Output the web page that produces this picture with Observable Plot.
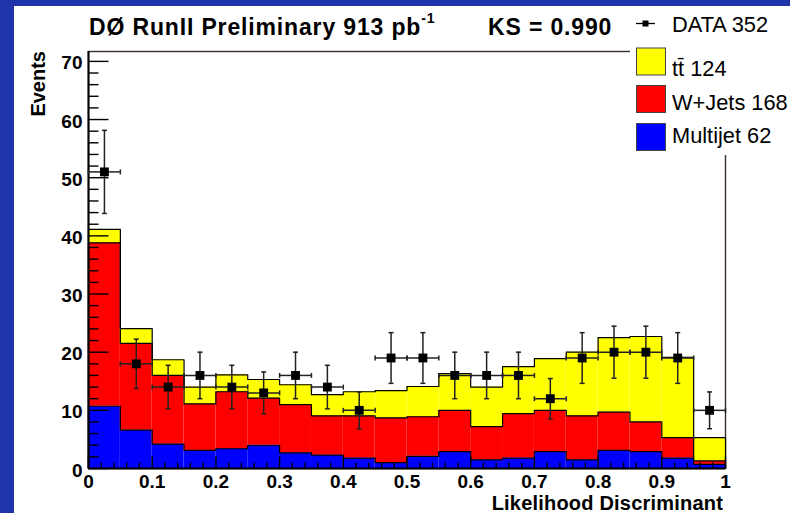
<!DOCTYPE html>
<html>
<head>
<meta charset="utf-8">
<script src="https://cdn.jsdelivr.net/npm/d3@7"></script>
<script src="https://cdn.jsdelivr.net/npm/@observablehq/plot@0.6"></script>
<style>
  html, body { margin: 0; padding: 0; background: #1f34aa; }
  #wrap { position: relative; width: 790px; height: 513px; overflow: hidden; }
  #panel { position: absolute; left: 14px; top: 6px; width: 776px; height: 507px; background: #fff; }
  #chart, #overlay { position: absolute; left: 0; top: 0; }
  #overlay text { font-family: "Liberation Sans", Arial, Helvetica, sans-serif; fill: #000; }
  .bold { font-weight: bold; }
</style>
</head>
<body>
<div id="wrap">
  <div id="panel"></div>
  <div id="chart"></div>
  <svg id="overlay" width="790" height="513">
    <!-- title line -->
    <text class="bold" x="89" y="35" font-size="23" letter-spacing="0.85">DØ RunII Preliminary 913 pb<tspan font-size="14" dy="-12">-1</tspan></text>
    <text class="bold" x="488" y="35" font-size="23" letter-spacing="0.85">KS = 0.990</text>
    <!-- legend -->
    <rect x="630" y="6" width="160" height="149" fill="#fff"/>
    <line x1="636" x2="655" y1="23.5" y2="23.5" stroke="#000" stroke-width="1.3"/>
    <rect x="642.5" y="20.5" width="6" height="6" fill="#000"/>
    <text x="672" y="31.7" font-size="21.8">DATA 352</text>
    <rect x="636.5" y="48" width="29" height="27" fill="#ffff00" stroke="#444" stroke-width="1"/>
    <text x="672" y="76" font-size="21.8">tt&#x0304; 124</text>
    <rect x="636.5" y="85.5" width="29" height="27" fill="#ff0000" stroke="#444" stroke-width="1"/>
    <text x="672" y="110" font-size="21.8">W+Jets 168</text>
    <rect x="636.5" y="123.5" width="29" height="27" fill="#0000ff" stroke="#444" stroke-width="1"/>
    <text x="672" y="142.7" font-size="21.8">Multijet 62</text>
    <!-- axis titles -->
    <text class="bold" font-size="20" text-anchor="end" transform="translate(45,51) rotate(-90)">Events</text>
    <text class="bold" x="723" y="510" font-size="20" text-anchor="end" letter-spacing="0.2">Likelihood Discriminant</text>
  </svg>
</div>
<script>
// Bin lower edges of the likelihood discriminant histogram (bin width 0.05)
const binLow = [0, 0.05, 0.1, 0.15, 0.2, 0.25, 0.3, 0.35, 0.4, 0.45,
                0.5, 0.55, 0.6, 0.65, 0.7, 0.75, 0.8, 0.85, 0.9, 0.95];
const binWidth = 0.05;

// Expected events per bin for each background/signal component
const multijet = [10.7, 6.6, 4.2, 3.1, 3.4, 4.0, 2.7, 2.3, 1.8, 1.0,
                  2.1, 2.9, 1.5, 1.8, 2.9, 1.5, 3.1, 2.9, 1.8, 0.7];
const wjets    = [28.1, 14.9, 11.8, 8.0, 9.8, 8.1, 8.3, 6.75, 7.25, 7.7,
                  6.8, 7.1, 5.7, 7.65, 7.1, 7.55, 6.6, 5.1, 3.5, 0.6];
const ttbar    = [2.3, 2.55, 2.7, 2.9, 2.9, 3.2, 3.4, 3.65, 4.15, 4.7,
                  5.2, 6.3, 6.8, 8.05, 8.9, 10.95, 12.8, 14.7, 13.8, 4.0];

// Observed data counts per bin
const dataCounts = [51, 18, 14, 16, 14, 13, 16, 14, 10, 19,
                    19, 16, 16, 16, 12, 19, 20, 20, 19, 10];

// Stack order (bottom to top) and fill colours
const componentNames  = ["Multijet", "W+Jets", "ttbar"];
const componentColors = ["#0000ff", "#ff0000", "#ffff00"];

// Axis ticks
const xTickValues = [0, 0.1, 0.2, 0.3, 0.4, 0.5, 0.6, 0.7, 0.8, 0.9, 1];
const xTickLabels = ["0", "0.1", "0.2", "0.3", "0.4", "0.5", "0.6", "0.7", "0.8", "0.9", "1"];
const xMinorTicks = d3.range(0, 1.001, 0.02).filter(v => Math.abs(v * 10 - Math.round(v * 10)) > 1e-6);
const yTickValues = [0, 10, 20, 30, 40, 50, 60, 70];
const yMinorTicks = d3.range(2, 71, 2).filter(v => v % 10 !== 0);

// Build stacked rectangles and the step outline of each stack layer
const layers = [multijet, wjets, ttbar];
const rects = [];
const outlines = [];
const tops = layers.map(() => []);
binLow.forEach((x0, i) => {
  let base = 0;
  layers.forEach((vals, k) => {
    const top = base + vals[i];
    rects.push({x1: x0, x2: x0 + binWidth, y1: base, y2: top, name: componentNames[k]});
    tops[k].push(top);
    base = top;
  });
});
tops.forEach((t, k) => {
  outlines.push({layer: k, x: binLow[0], y: 0});
  t.forEach((v, i) => outlines.push({layer: k, x: binLow[i], y: v}));
  outlines.push({layer: k, x: binLow[binLow.length - 1] + binWidth, y: t[t.length - 1]});
  outlines.push({layer: k, x: binLow[binLow.length - 1] + binWidth, y: 0});
});

// Data points with Poisson errors and bin-width horizontal bars
const points = dataCounts.map((n, i) => {
  const e = Math.sqrt(n);
  return {x: binLow[i] + binWidth / 2, xlo: binLow[i], xhi: binLow[i] + binWidth, n, lo: n - e, hi: n + e};
});

// Custom line symbols for inward ticks and error-bar caps
const seg = (dx1, dy1, dx2, dy2) => ({draw(ctx) { ctx.moveTo(dx1, dy1); ctx.lineTo(dx2, dy2); }});

const plot = Plot.plot({
  width: 790,
  height: 513,
  marginLeft: 88,
  marginRight: 65,
  marginTop: 51,
  marginBottom: 45,
  style: {background: "transparent", fontFamily: "Liberation Sans, Arial, sans-serif", overflow: "visible"},
  x: {domain: [0, 1], axis: null},
  y: {domain: [0, 71.7], axis: null},
  color: {domain: componentNames, range: componentColors},
  marks: [
    Plot.frame({stroke: "#3a2b2b", strokeWidth: 1.4}),
    Plot.rect(rects, {x1: "x1", x2: "x2", y1: "y1", y2: "y2", fill: "name"}),
    Plot.line(outlines, {x: "x", y: "y", z: "layer", curve: "step-after", stroke: "#000", strokeWidth: 1.2}),
    // inward tick marks
    Plot.dot(yTickValues, {x: () => 0, y: d => d, symbol: seg(0, 0, 20, 0), fill: "none", stroke: "#000", strokeWidth: 1.4}),
    Plot.dot(yMinorTicks, {x: () => 0, y: d => d, symbol: seg(0, 0, 10, 0), fill: "none", stroke: "#000", strokeWidth: 1.4}),
    Plot.dot(xTickValues, {x: d => d, y: () => 0, symbol: seg(0, 0, 0, -12), fill: "none", stroke: "#000", strokeWidth: 1.4}),
    Plot.dot(xMinorTicks, {x: d => d, y: () => 0, symbol: seg(0, 0, 0, -6), fill: "none", stroke: "#000", strokeWidth: 1.4}),
    Plot.ruleX([0], {stroke: "#000", strokeWidth: 2}),
    Plot.ruleY([0], {stroke: "#000", strokeWidth: 2}),
    // tick labels
    Plot.text(yTickValues, {x: () => 0, y: d => d, text: d => String(d), textAnchor: "end", dx: -6, dy: 2,
      fontSize: 19, fontWeight: "bold", fill: "#000"}),
    Plot.text(xTickValues, {x: d => d, y: () => 0, text: (d, i) => xTickLabels[i], lineAnchor: "top", dy: 6,
      fontSize: 19, fontWeight: "bold", fill: "#000"}),
    // error bars
    Plot.ruleX(points, {x: "x", y1: "lo", y2: "hi", stroke: "#222", strokeWidth: 1.5}),
    Plot.ruleY(points, {y: "n", x1: "xlo", x2: "xhi", stroke: "#222", strokeWidth: 1.5}),
    Plot.dot(points, {x: "x", y: "lo", symbol: seg(-2.5, 0, 2.5, 0), fill: "none", stroke: "#222", strokeWidth: 1.5}),
    Plot.dot(points, {x: "x", y: "hi", symbol: seg(-2.5, 0, 2.5, 0), fill: "none", stroke: "#222", strokeWidth: 1.5}),
    Plot.dot(points, {x: "xlo", y: "n", symbol: seg(0, -2.5, 0, 2.5), fill: "none", stroke: "#222", strokeWidth: 1.5}),
    Plot.dot(points, {x: "xhi", y: "n", symbol: seg(0, -2.5, 0, 2.5), fill: "none", stroke: "#222", strokeWidth: 1.5}),
    // data markers
    Plot.dot(points, {x: "x", y: "n", symbol: "square", r: 5, fill: "#000", stroke: "none"})
  ]
});
document.getElementById("chart").appendChild(plot);
</script>
</body>
</html>
